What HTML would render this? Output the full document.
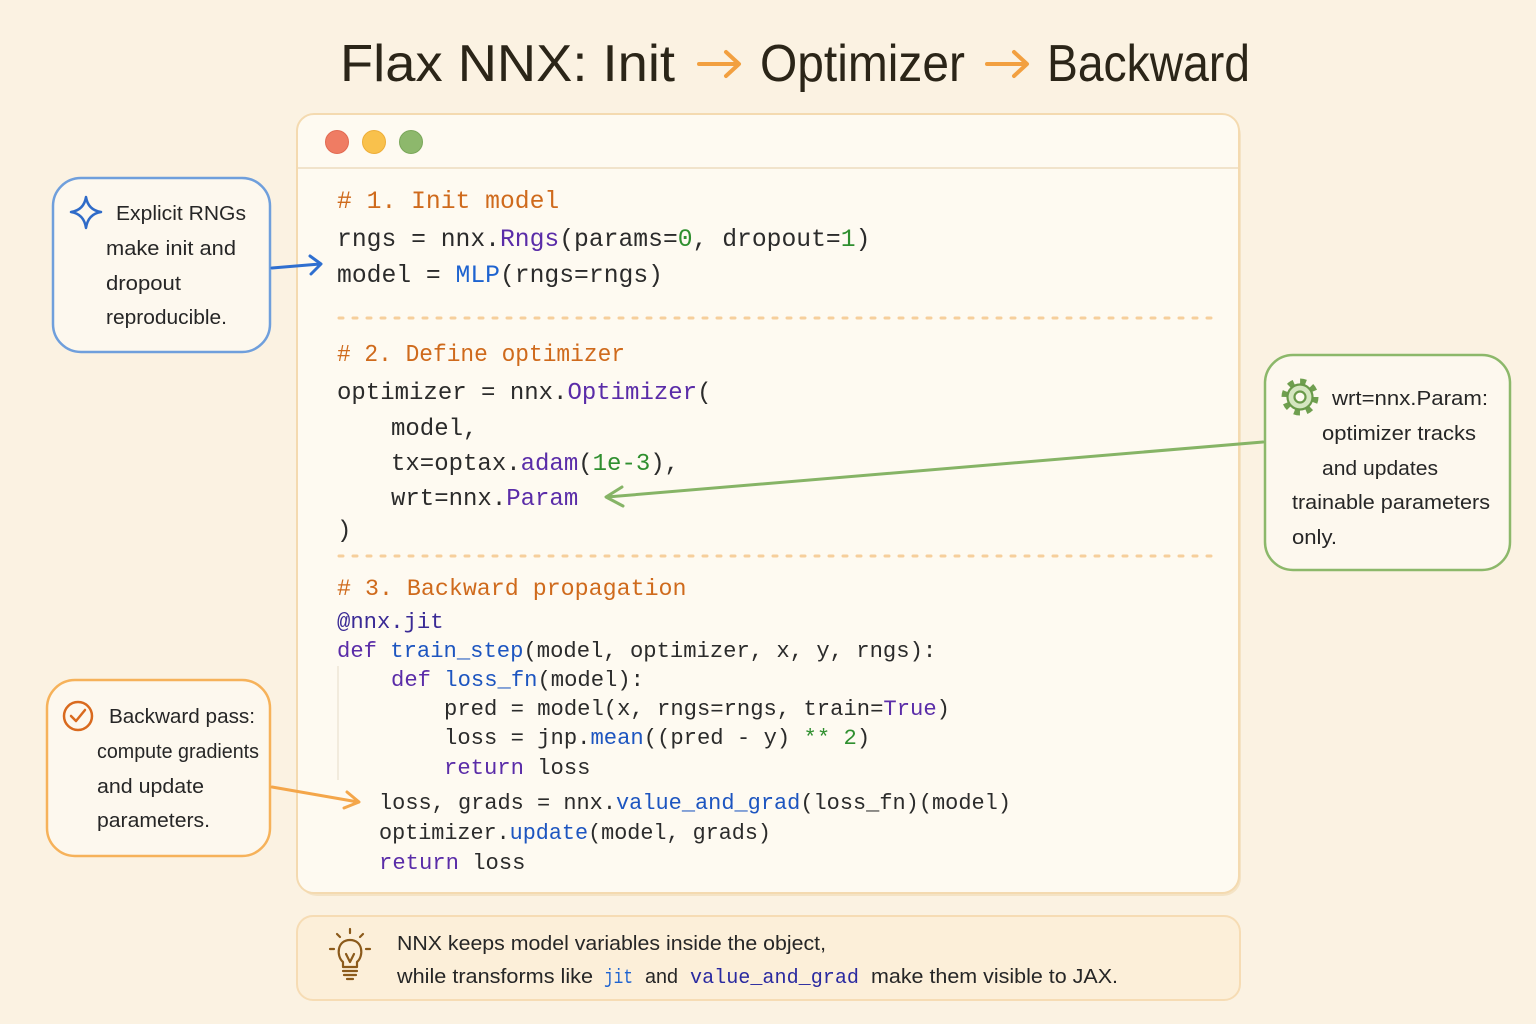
<!DOCTYPE html>
<html><head><meta charset="utf-8"><style>
html,body{margin:0;padding:0;background:#fbf2e2;}
svg{display:block}
</style></head><body>
<svg width="1536" height="1024" viewBox="0 0 1536 1024" xmlns="http://www.w3.org/2000/svg">
<rect width="1536" height="1024" fill="#fbf2e2"/>

<!-- Title -->
<g font-family="Liberation Sans, sans-serif" font-size="52" fill="#2b2518">
<text x="340" y="81" textLength="335" lengthAdjust="spacingAndGlyphs">Flax NNX: Init</text>
<text x="760" y="81" textLength="205" lengthAdjust="spacingAndGlyphs">Optimizer</text>
<text x="1047" y="81" textLength="203" lengthAdjust="spacingAndGlyphs">Backward</text>
</g>
<g stroke="#f2a040" stroke-width="4" fill="none" stroke-linecap="round" stroke-linejoin="round">
<path d="M699,64 L738,64 M726,52 L739,64 L726,76"/>
<path d="M987,64 L1026,64 M1014,52 L1027,64 L1014,76"/>
</g>

<!-- Main panel -->
<rect x="299" y="117" width="942" height="779" rx="18" fill="#f4e3c5"/>
<rect x="297" y="114" width="942" height="779" rx="17" fill="#fefaf1" stroke="#f4dab0" stroke-width="2"/>
<line x1="298" y1="168" x2="1238" y2="168" stroke="#f1e3cb" stroke-width="2"/>
<circle cx="337" cy="142" r="11.5" fill="#ef7c63" stroke="#e26a52" stroke-width="1"/>
<circle cx="374" cy="142" r="11.5" fill="#f9c14c" stroke="#eeae38" stroke-width="1"/>
<circle cx="411" cy="142" r="11.5" fill="#8db86c" stroke="#7aa75a" stroke-width="1"/>

<!-- dashed separators -->
<g stroke="#f6cf9c" stroke-width="3" stroke-dasharray="4 10" stroke-linecap="round">
<line x1="339" y1="318" x2="1214" y2="318"/>
<line x1="339" y1="556" x2="1214" y2="556"/>
</g>
<line x1="338" y1="666" x2="338" y2="780" stroke="#efe6d6" stroke-width="1.5"/>

<!-- Code section 1 -->
<g font-family="Liberation Mono, monospace" font-size="24.7" fill="#2b2b2b">
<text x="337" y="208" fill="#cf6a1c"># 1. Init model</text>
<text x="337" y="246">rngs = nnx.<tspan fill="#5a2ca8">Rngs</tspan>(params=<tspan fill="#2f8f2f">0</tspan>, dropout=<tspan fill="#2f8f2f">1</tspan>)</text>
<text x="337" y="282">model = <tspan fill="#1e63d0">MLP</tspan>(rngs=rngs)</text>
</g>

<!-- Code section 2 -->
<g font-family="Liberation Mono, monospace" font-size="24" fill="#2b2b2b">
<text x="337" y="361" fill="#cf6a1c" textLength="288" lengthAdjust="spacingAndGlyphs"># 2. Define optimizer</text>
<text x="337" y="399">optimizer = nnx.<tspan fill="#5a2ca8">Optimizer</tspan>(</text>
<text x="391" y="435">model,</text>
<text x="391" y="470">tx=optax.<tspan fill="#5a2ca8">adam</tspan>(<tspan fill="#2f8f2f">1e-3</tspan>),</text>
<text x="391" y="505">wrt=nnx.<tspan fill="#5a2ca8">Param</tspan></text>
<text x="337" y="537">)</text>
</g>

<!-- Code section 3 -->
<g font-family="Liberation Mono, monospace" font-size="22.2" fill="#2b2b2b">
<text x="337" y="595" fill="#cf6a1c" font-size="23.3"># 3. Backward propagation</text>
<text x="337" y="628" fill="#3a2a95">@nnx.jit</text>
<text x="337" y="657"><tspan fill="#5a2ca8">def</tspan> <tspan fill="#1d55c0">train_step</tspan>(model, optimizer, x, y, rngs):</text>
<text x="391" y="686"><tspan fill="#5a2ca8">def</tspan> <tspan fill="#1d55c0">loss_fn</tspan>(model):</text>
<text x="444" y="715">pred = model(x, rngs=rngs, train=<tspan fill="#5a2ca8">True</tspan>)</text>
<text x="444" y="744">loss = jnp.<tspan fill="#1d55c0">mean</tspan>((pred - y) <tspan fill="#2f8f2f">**</tspan> <tspan fill="#2f8f2f">2</tspan>)</text>
<text x="444" y="774"><tspan fill="#5a2ca8">return</tspan> loss</text>
<text x="379" y="809" textLength="632" lengthAdjust="spacingAndGlyphs">loss, grads = nnx.<tspan fill="#1d55c0">value_and_grad</tspan>(loss_fn)(model)</text>
<text x="379" y="839" textLength="392" lengthAdjust="spacingAndGlyphs">optimizer.<tspan fill="#1d55c0">update</tspan>(model, grads)</text>
<text x="379" y="869"><tspan fill="#5a2ca8">return</tspan> loss</text>
</g>

<!-- Left callout 1 (blue) -->
<rect x="53" y="178" width="217" height="174" rx="28" fill="#fdf8ee" stroke="#6f9fdc" stroke-width="2.5"/>
<path d="M86,197 Q88,210 101,212 Q88,214 86,228 Q84,214 71,212 Q84,210 86,197 Z" fill="#fdf8ee" stroke="#2f6bc8" stroke-width="2.5" stroke-linejoin="round"/>
<g font-family="Liberation Sans, sans-serif" font-size="20" fill="#262626">
<text x="116" y="220" textLength="130" lengthAdjust="spacingAndGlyphs">Explicit RNGs</text>
<text x="106" y="255" textLength="130" lengthAdjust="spacingAndGlyphs">make init and</text>
<text x="106" y="290" textLength="75" lengthAdjust="spacingAndGlyphs">dropout</text>
<text x="106" y="324" textLength="121" lengthAdjust="spacingAndGlyphs">reproducible.</text>
</g>
<g stroke="#2f6fd0" stroke-width="3" fill="none" stroke-linecap="round" stroke-linejoin="round">
<path d="M272,268 L320,264 M310,256 L321,264 L311,274"/>
</g>

<!-- Right callout (green) -->
<rect x="1265" y="355" width="245" height="215" rx="28" fill="#fdf8ee" stroke="#8cb86a" stroke-width="2.5"/>
<circle cx="1300" cy="397" r="15" fill="none" stroke="#6f9f4f" stroke-width="7" stroke-dasharray="5.6 6.18"/>
<circle cx="1300" cy="397" r="12.5" fill="#d5e6c0" stroke="#6a9a4a" stroke-width="2.2"/>
<circle cx="1300" cy="397" r="5.5" fill="#fefaf1" stroke="#6a9a4a" stroke-width="2.2"/>
<g font-family="Liberation Sans, sans-serif" font-size="20" fill="#262626">
<text x="1332" y="405" textLength="156" lengthAdjust="spacingAndGlyphs">wrt=nnx.Param:</text>
<text x="1322" y="440" textLength="154" lengthAdjust="spacingAndGlyphs">optimizer tracks</text>
<text x="1322" y="475" textLength="116" lengthAdjust="spacingAndGlyphs">and updates</text>
<text x="1292" y="509" textLength="198" lengthAdjust="spacingAndGlyphs">trainable parameters</text>
<text x="1292" y="544" textLength="45" lengthAdjust="spacingAndGlyphs">only.</text>
</g>
<g stroke="#86b466" stroke-width="3" fill="none" stroke-linecap="round" stroke-linejoin="round">
<path d="M1263,442 L607,497 M622,487 L606,497 L623,506"/>
</g>

<!-- Left callout 2 (orange) -->
<rect x="47" y="680" width="223" height="176" rx="28" fill="#fdf8ee" stroke="#f6b25a" stroke-width="2.5"/>
<circle cx="78" cy="716" r="14" fill="none" stroke="#d96a1e" stroke-width="2.5"/>
<path d="M71,716 L76,721 L85,710" fill="none" stroke="#d96a1e" stroke-width="2.5" stroke-linecap="round" stroke-linejoin="round"/>
<g font-family="Liberation Sans, sans-serif" font-size="20" fill="#262626">
<text x="109" y="723" textLength="146" lengthAdjust="spacingAndGlyphs">Backward pass:</text>
<text x="97" y="758" textLength="162" lengthAdjust="spacingAndGlyphs">compute gradients</text>
<text x="97" y="793" textLength="107" lengthAdjust="spacingAndGlyphs">and update</text>
<text x="97" y="827" textLength="113" lengthAdjust="spacingAndGlyphs">parameters.</text>
</g>
<g stroke="#f4a64a" stroke-width="3" fill="none" stroke-linecap="round" stroke-linejoin="round">
<path d="M272,787 L358,802 M347,792 L359,802 L344,808"/>
</g>

<!-- Bottom note -->
<rect x="297" y="916" width="943" height="84" rx="16" fill="#fcefd9" stroke="#f6dcb4" stroke-width="2"/>
<g stroke="#8b5a1b" stroke-width="2.2" fill="none" stroke-linecap="round" stroke-linejoin="round">
<path d="M343,962 C336,956 337,940 350,940 C363,940 364,956 357,962 L357,967 L343,967 Z"/>
<path d="M346,954 L350,962 L354,954"/>
<path d="M343,971 L357,971 M344,975 L356,975 M347,979 L353,979"/>
<path d="M350,929 L350,933 M337,934 L340,937 M363,934 L360,937 M330,949 L334,949 M366,949 L370,949"/>
</g>
<g font-family="Liberation Sans, sans-serif" font-size="20" fill="#262626">
<text x="397" y="950" textLength="429" lengthAdjust="spacingAndGlyphs">NNX keeps model variables inside the object,</text>
<text x="397" y="983" textLength="196" lengthAdjust="spacingAndGlyphs">while transforms like</text>
<text x="645" y="983" textLength="33" lengthAdjust="spacingAndGlyphs">and</text>
<text x="871" y="983" textLength="247" lengthAdjust="spacingAndGlyphs">make them visible to JAX.</text>
</g>
<g font-family="Liberation Mono, monospace" font-size="20">
<text x="604" y="983" fill="#1e63d0" textLength="29" lengthAdjust="spacingAndGlyphs">jit</text>
<text x="690" y="983" fill="#2a2aa0" textLength="169" lengthAdjust="spacingAndGlyphs">value_and_grad</text>
</g>
</svg>
</body></html>
